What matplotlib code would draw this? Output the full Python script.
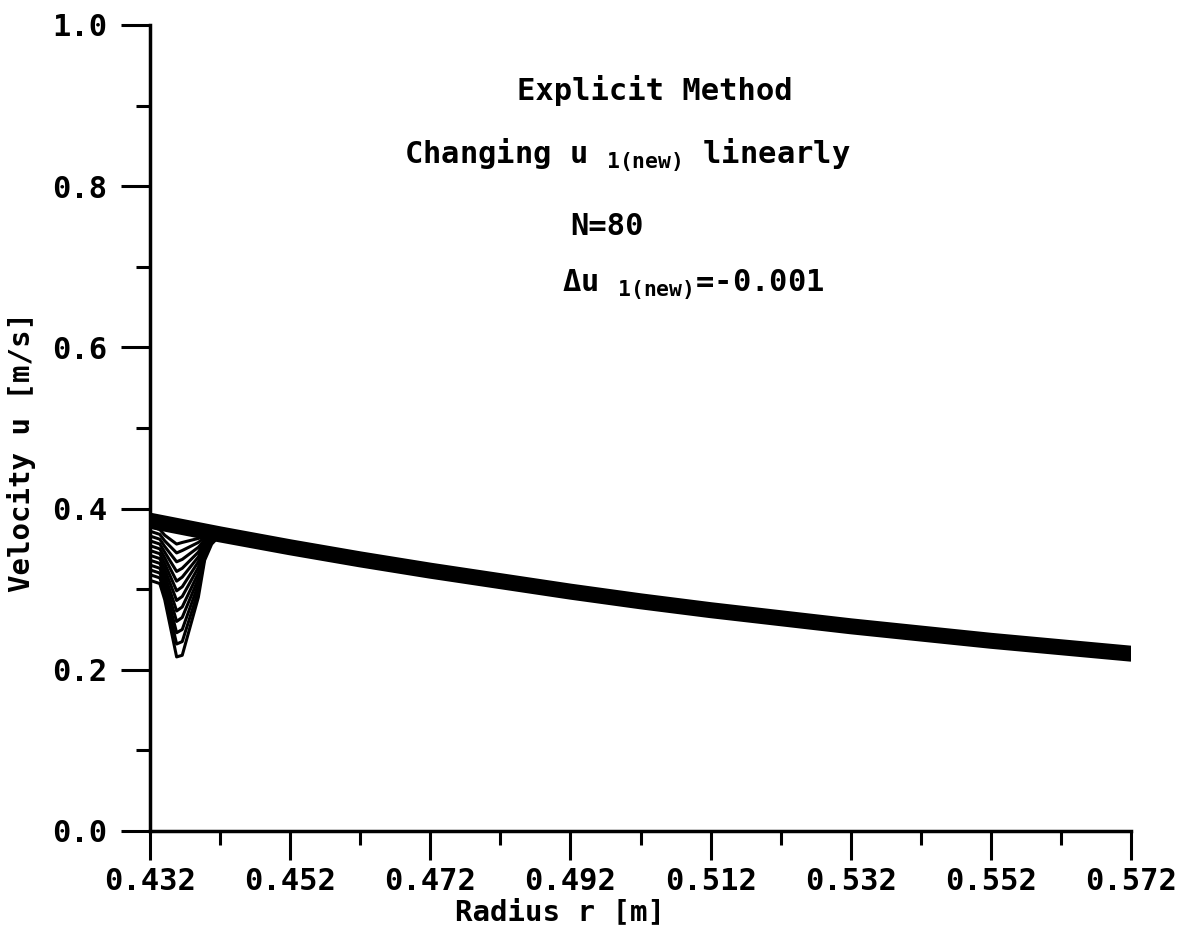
import matplotlib
matplotlib.use("Agg")
import matplotlib.pyplot as plt
import numpy as np

# main band, u ~ 1/r^2
r_band = [0.432, 0.442, 0.452, 0.462, 0.472, 0.482, 0.492, 0.502,
          0.512, 0.522, 0.532, 0.542, 0.552, 0.562, 0.572]
u_band = [0.385, 0.368, 0.352, 0.337, 0.323, 0.310, 0.297, 0.285,
          0.274, 0.264, 0.254, 0.245, 0.236, 0.228, 0.220]

# the dip near the inner radius (one row per iteration)
r_dip = [0.4320, 0.4334, 0.4341, 0.4358, 0.4366, 0.4389, 0.4398, 0.4408, 0.4420]
u_dip = [
    [0.311, 0.307, 0.287, 0.216, 0.218, 0.290, 0.336, 0.356, 0.367],
    [0.318, 0.314, 0.296, 0.232, 0.235, 0.298, 0.340, 0.358, 0.367],
    [0.324, 0.320, 0.304, 0.246, 0.250, 0.306, 0.343, 0.359, 0.367],
    [0.330, 0.326, 0.311, 0.260, 0.265, 0.313, 0.346, 0.360, 0.367],
    [0.336, 0.332, 0.318, 0.273, 0.278, 0.320, 0.349, 0.361, 0.367],
    [0.342, 0.338, 0.325, 0.286, 0.291, 0.327, 0.352, 0.362, 0.367],
    [0.348, 0.344, 0.332, 0.298, 0.303, 0.334, 0.355, 0.363, 0.367],
    [0.354, 0.350, 0.339, 0.310, 0.315, 0.340, 0.357, 0.364, 0.367],
    [0.360, 0.356, 0.346, 0.322, 0.326, 0.346, 0.359, 0.365, 0.367],
    [0.366, 0.362, 0.353, 0.334, 0.337, 0.352, 0.361, 0.366, 0.367],
    [0.372, 0.368, 0.360, 0.345, 0.348, 0.358, 0.364, 0.366, 0.367],
    [0.378, 0.374, 0.367, 0.356, 0.358, 0.363, 0.366, 0.367, 0.367],
]

xticks = [0.432, 0.452, 0.472, 0.492, 0.512, 0.532, 0.552, 0.572]
yticks = [0.0, 0.2, 0.4, 0.6, 0.8, 1.0]

plt.rcParams['font.family'] = 'DejaVu Sans Mono'
plt.rcParams['font.weight'] = 'bold'
plt.rcParams['mathtext.fontset'] = 'custom'
plt.rcParams['mathtext.rm'] = 'DejaVu Sans Mono:bold'
plt.rcParams['mathtext.it'] = 'DejaVu Sans Mono:bold'

fig = plt.figure(figsize=(11.86, 9.34), dpi=100)
ax = fig.add_axes([150/1186, 1-831/934, 981/1186, 806/934])

ax.plot(r_band, u_band, 'k-', lw=11.5, solid_capstyle='round')
for u in u_dip:
    ax.plot(r_dip, u, 'k-', lw=2.2)

ax.set_xlim(0.432, 0.572)
ax.set_ylim(0.0, 1.0)
ax.set_xticks(xticks)
ax.set_yticks(yticks)
ax.set_xticklabels(["%.3f" % v for v in xticks])
ax.set_yticklabels(["%.1f" % v for v in yticks])
ax.set_xticks(np.arange(0.442, 0.572, 0.02), minor=True)
ax.set_yticks([0.1, 0.3, 0.5, 0.7, 0.9], minor=True)
ax.tick_params(which='major', direction='out', length=21, width=2.2, labelsize=22, pad=5)
ax.tick_params(which='minor', direction='out', length=10, width=2.2)
ax.tick_params(axis='y', which='major', pad=10)

for s in ['top', 'right']:
    ax.spines[s].set_visible(False)
for s in ['left', 'bottom']:
    ax.spines[s].set_linewidth(2.5)

fig.text(22/1186, 1-452/934, "Velocity u [m/s]", rotation=90, ha='center', va='center', fontsize=21)
fig.text(560/1186, 1-912/934, "Radius r [m]", ha='center', va='center', fontsize=21)

ax.text(0.5041, 0.919, "Explicit Method", ha='center', va='center', fontsize=22)
ax.text(0.4682, 0.838, r"Changing u $_{\mathrm{1(new)}}$ linearly", ha='left', va='center', fontsize=22)
ax.text(0.4920, 0.750, "N=80", ha='left', va='center', fontsize=22)
ax.text(0.4908, 0.678, r"Δu $_{\mathrm{1(new)}}$=-0.001", ha='left', va='center', fontsize=22)

fig.savefig("out.png", dpi=100)
